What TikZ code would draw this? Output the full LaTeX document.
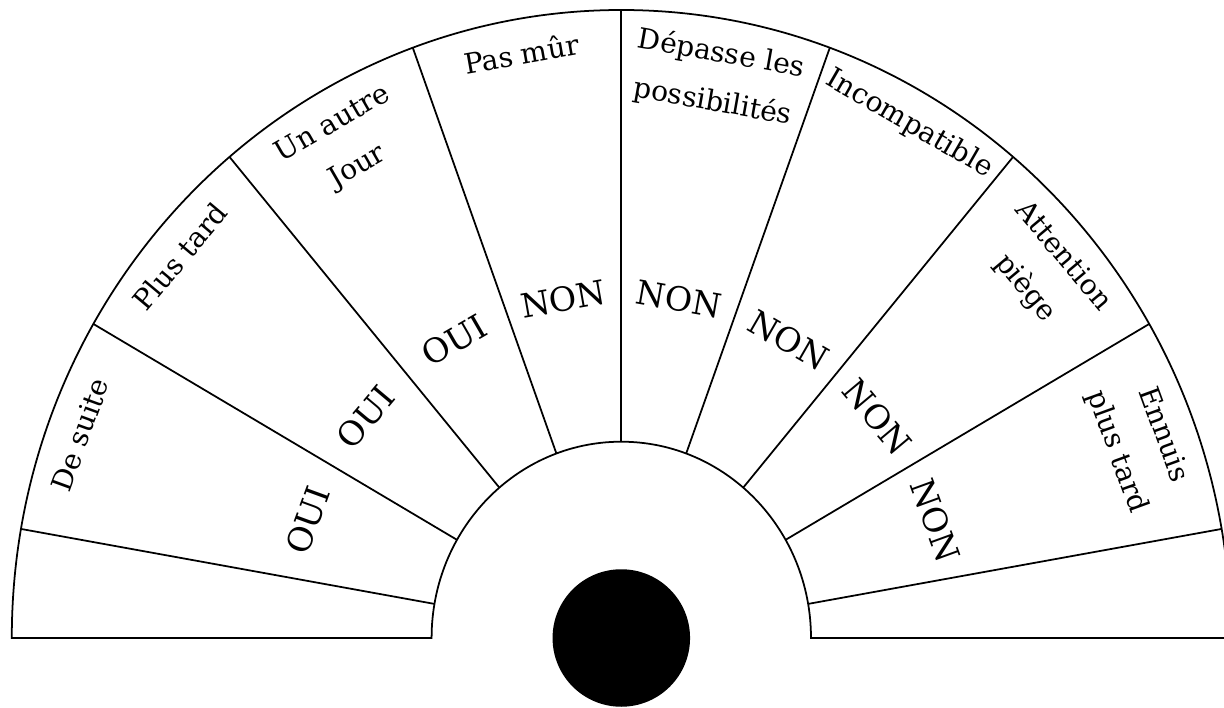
\documentclass[tikz,border=0pt]{standalone}
\usepackage{fontspec}
\setmainfont{DejaVu Serif}
\tikzset{
  sectorline/.style={line width=1pt, draw=black, line join=miter},
  verdict/.style={font=\fontsize{16}{28}\selectfont, align=center, inner sep=0pt},
  answer/.style={font=\fontsize{19}{22}\selectfont, inner sep=0pt},
  bob/.style={circle, fill=black, minimum size=2.75cm, inner sep=0pt}
}

\begin{document}
\begin{tikzpicture}
\useasboundingbox (-12.426,-1.38) rectangle (12.054,12.76);

% half ring
\draw[sectorline] (-12.19,0) arc[start angle=180, end angle=0, x radius=12.19, y radius=12.56]
  -- (3.794,0) arc[start angle=0, end angle=180, x radius=3.794, y radius=3.926] -- cycle;

% spokes
\draw[sectorline] (10:3.794 and 3.926) -- (10:12.19 and 12.56);
\draw[sectorline] (30:3.794 and 3.926) -- (30:12.19 and 12.56);
\draw[sectorline] (50:3.794 and 3.926) -- (50:12.19 and 12.56);
\draw[sectorline] (70:3.794 and 3.926) -- (70:12.19 and 12.56);
\draw[sectorline] (90:3.794 and 3.926) -- (90:12.19 and 12.56);
\draw[sectorline] (110:3.794 and 3.926) -- (110:12.19 and 12.56);
\draw[sectorline] (130:3.794 and 3.926) -- (130:12.19 and 12.56);
\draw[sectorline] (150:3.794 and 3.926) -- (150:12.19 and 12.56);
\draw[sectorline] (170:3.794 and 3.926) -- (170:12.19 and 12.56);

% outer labels
\node[verdict, rotate=70] at (160:11.52 and 11.87) (desuite) {De suite};
\node[verdict, rotate=50] at (140:11.52 and 11.87) (plustard) {Plus tard};
\node[verdict, rotate=30] at (120:11.03 and 11.37) (autrejour) {Un autre\\Jour};
\node[verdict, rotate=10] at (100:11.52 and 11.87) (pasmur) {Pas mûr};
\node[verdict, rotate=-10] at (80:11.03 and 11.37) (depasse) {Dépasse les\\possibilités};
\node[verdict, rotate=-30] at (60:11.52 and 11.87) (incompat) {Incompatible};
\node[verdict, rotate=-50] at (40:11.03 and 11.37) (piege) {Attention\\piège};
\node[verdict, rotate=-70] at (20:11.03 and 11.37) (ennuis) {Ennuis\\plus tard};

% answers
\node[answer, rotate=70] at (160:6.68 and 6.88) (oui1) {OUI};
\node[answer, rotate=50] at (140:6.68 and 6.88) (oui2) {OUI};
\node[answer, rotate=30] at (120:6.68 and 6.88) (oui3) {OUI};
\node[answer, rotate=10] at (100:6.68 and 6.88) (non1) {NON};
\node[answer, rotate=-10] at (80:6.68 and 6.88) (non2) {NON};
\node[answer, rotate=-30] at (60:6.68 and 6.88) (non3) {NON};
\node[answer, rotate=-50] at (40:6.68 and 6.88) (non4) {NON};
\node[answer, rotate=-70] at (20:6.68 and 6.88) (non5) {NON};

\node[bob] at (0,0) (pendule) {};
\end{tikzpicture}
\end{document}
